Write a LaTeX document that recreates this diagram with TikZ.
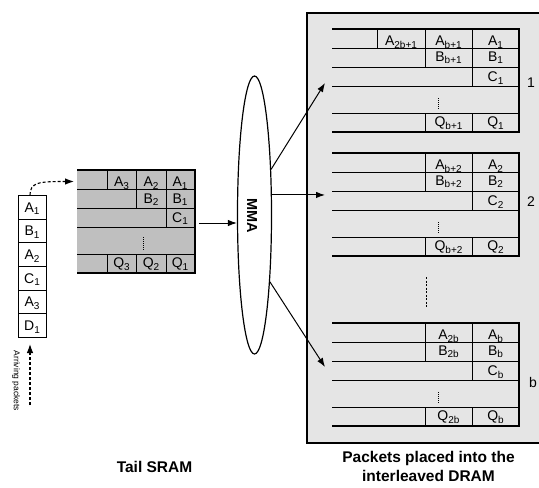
\documentclass[tikz,border=0pt]{standalone}
\usepackage{fontspec}
\setmainfont{Liberation Sans}
\usetikzlibrary{arrows.meta,shapes.geometric}
\newcommand\lbl[2]{#1\raisebox{-2.6pt}{\fontsize{10}{10}\selectfont #2}}
\tikzset{
  thinl/.style={line width=0.7pt},
  thickl/.style={line width=2pt},
  celltxt/.style={font=\fontsize{14}{14}\selectfont, anchor=base, inner sep=0pt},
  dotl/.style={line width=0.6pt, dash pattern=on 1pt off 1pt},
  arr/.style={line width=1pt, -{Latex[length=9pt,width=6.5pt]}},
  darr/.style={line width=1.1pt, dash pattern=on 3pt off 2pt, -{Latex[length=9pt,width=6.5pt]}},
  banklbl/.style={font=\fontsize{14}{14}\selectfont, anchor=base west, inner sep=0pt},
  caption/.style={font=\fontsize{15.5}{18.7}\selectfont\bfseries, align=center, inner sep=0pt},
  stackcell/.style={draw, line width=0.8pt, minimum width=28pt, minimum height=23.67pt, inner sep=0pt,
        text height=10pt, text depth=0pt, font=\fontsize{14}{14}\selectfont, anchor=north},
}
% #1 top y, #2 prefix, #3 Amid, #4 Aright, #5 Bmid, #6 Bright, #7 Cright, #8 Qmid, #9 Qright
\newcommand\drawbank[9]{%
  \foreach \dy in {19,38,57,84} {\draw[thinl] (332,#1+\dy) -- (519,#1+\dy);}
  \draw[thinl] (425,#1) -- (425,#1+38);
  \draw[thinl] (472,#1) -- (472,#1+57);
  \draw[thinl] (425,#1+84) -- (425,#1+103);
  \draw[thinl] (472,#1+84) -- (472,#1+103);
  \draw[thickl] (332,#1) -- (519,#1) -- (519,#1+103) -- (332,#1+103);
  \draw[dotl] (438,#1+69) -- (438,#1+81);
  \node[celltxt] (#2Am) at (448.5,#1+16.5) {#3};
  \node[celltxt] (#2Ar) at (495.5,#1+16.5) {#4};
  \node[celltxt] (#2Bm) at (448.5,#1+32) {#5};
  \node[celltxt] (#2Br) at (495.5,#1+32) {#6};
  \node[celltxt] (#2Cr) at (495.5,#1+52.5) {#7};
  \node[celltxt] (#2Qm) at (448.5,#1+97.5) {#8};
  \node[celltxt] (#2Qr) at (495.5,#1+97.5) {#9};
}
\begin{document}
\begin{tikzpicture}[x=1pt,y=-1pt]
\useasboundingbox (0,0) rectangle (539,488);
\fill[white] (0,0) rectangle (539,488);

% DRAM panel
\draw[line width=1.3pt, fill=black!10] (307,13) rectangle (545,443);

% banks
\drawbank{29}{ka}{\lbl{A}{b+1}}{\lbl{A}{1}}{\lbl{B}{b+1}}{\lbl{B}{1}}{\lbl{C}{1}}{\lbl{Q}{b+1}}{\lbl{Q}{1}}
\draw[thinl] (377,29) -- (377,48);
\node[celltxt] (kaAl) at (401,29+16.5) {\lbl{A}{2b+1}};
\drawbank{153}{kb}{\lbl{A}{b+2}}{\lbl{A}{2}}{\lbl{B}{b+2}}{\lbl{B}{2}}{\lbl{C}{2}}{\lbl{Q}{b+2}}{\lbl{Q}{2}}
\drawbank{323}{kc}{\lbl{A}{2b}}{\lbl{A}{b}}{\lbl{B}{2b}}{\lbl{B}{b}}{\lbl{C}{b}}{\lbl{Q}{2b}}{\lbl{Q}{b}}
\node[banklbl] (n1) at (527,87) {1};
\node[banklbl] (n2) at (527,206) {2};
\node[banklbl] (nb) at (529,387) {b};
\draw[line width=1pt, dash pattern=on 2pt off 1.5pt] (426,277) -- (426,308);

% Tail SRAM
\fill[black!25] (77,170) rectangle (195,273);
\foreach \y in {189,208,227,254} {\draw[thinl] (77,\y) -- (195,\y);}
\draw[thinl] (107,170) -- (107,189);
\draw[thinl] (136,170) -- (136,208);
\draw[thinl] (166,170) -- (166,227);
\draw[thinl] (107,254) -- (107,273);
\draw[thinl] (136,254) -- (136,273);
\draw[thinl] (166,254) -- (166,273);
\draw[thickl] (77,170) -- (195,170) -- (195,273) -- (77,273);
\draw[dotl] (143,237) -- (143,250);
\node[celltxt] (sA3) at (121.5,186.5) {\lbl{A}{3}};
\node[celltxt] (sA2) at (151,186.5) {\lbl{A}{2}};
\node[celltxt] (sA1) at (180,186.5) {\lbl{A}{1}};
\node[celltxt] (sB2) at (151,203) {\lbl{B}{2}};
\node[celltxt] (sB1) at (180,203) {\lbl{B}{1}};
\node[celltxt] (sC1) at (180,222) {\lbl{C}{1}};
\node[celltxt] (sQ3) at (121.5,267.5) {\lbl{Q}{3}};
\node[celltxt] (sQ2) at (151,267.5) {\lbl{Q}{2}};
\node[celltxt] (sQ1) at (180,267.5) {\lbl{Q}{1}};
\coordinate (sramout) at (199,223);
\coordinate (sramin) at (74,181.5);

% arriving stack
\foreach \t [count=\i from 0] in {{\lbl{A}{1}},{\lbl{B}{1}},{\lbl{A}{2}},{\lbl{C}{1}},{\lbl{A}{3}},{\lbl{D}{1}}} {
  \node[stackcell] (p\i) at (32,195+23.67*\i) {\t};
}
\coordinate (arrstart) at (30,405);
\draw[darr] (arrstart) -- (30,344);
\node[rotate=-90, font=\fontsize{8.5}{8.5}\selectfont, inner sep=0pt] (arrtxt) at (16,381) {Arriving packets};
\draw[darr] (p0.north -| 30,0) .. controls (30,182) and (40,181.5) .. (sramin);

% MMA
\node[ellipse, draw, line width=1.2pt, minimum width=34pt, minimum height=278pt, inner sep=0pt] (mma) at (254.5,215) {};
\node[rotate=-90, font=\fontsize{14.5}{14.5}\selectfont\bfseries, inner sep=0pt] (mmatxt) at (252,216) {MMA};
\draw[arr] (sramout) -- (sramout -| mma.west);
\coordinate (k1in) at (325,83);
\coordinate (k2in) at (325,195);
\coordinate (k3in) at (325,367);
\draw[arr] (mma.70) -- (k1in);
\draw[arr] (mma.49) -- (mma.49 -| k2in);
\draw[arr] (mma.-77) -- (k3in);

% captions
\node[caption, anchor=base] (captail) at (154.5,472) {Tail SRAM};
\node[caption, anchor=base] (capdram) at (428.5,481) {Packets placed into the\\interleaved DRAM};
\end{tikzpicture}
\end{document}
